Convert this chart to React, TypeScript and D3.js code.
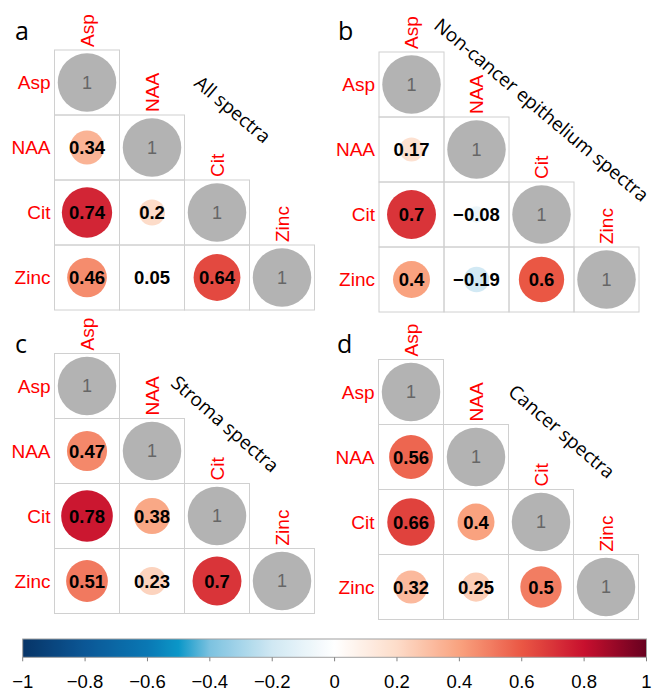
import React from "react";
import * as d3 from "d3";

const variables = ["Asp", "NAA", "Cit", "Zinc"];
const panelLetters = ["a", "b", "c", "d"];
const panelTitles = ["All spectra", "Non-cancer epithelium spectra", "Stroma spectra", "Cancer spectra"];
// lower-triangle correlations, row by row: [NAA-Asp], [Cit-Asp, Cit-NAA], [Zinc-Asp, Zinc-NAA, Zinc-Cit]
const corrAll = [[0.34], [0.74, 0.2], [0.46, 0.05, 0.64]];
const corrNonCancer = [[0.17], [0.7, -0.08], [0.4, -0.19, 0.6]];
const corrStroma = [[0.47], [0.78, 0.38], [0.51, 0.23, 0.7]];
const corrCancer = [[0.56], [0.66, 0.4], [0.32, 0.25, 0.5]];
const colorbarTicks = [-1, -0.8, -0.6, -0.4, -0.2, 0, 0.2, 0.4, 0.6, 0.8, 1];

const paletteDomain = [-1, -0.8, -0.6, -0.5, -0.4, -0.2, 0, 0.2, 0.4, 0.6, 0.8, 1];
const paletteColors = ["#073467", "#0B5796", "#0A78B4", "#0B97C8", "#7CC2E0", "#D0E8F3", "#FFFFFF", "#FDDCC9", "#F9A27F", "#EA5744", "#C8102E", "#67001F"];

const color = d3.scaleLinear<string>().domain(paletteDomain).range(paletteColors).interpolate(d3.interpolateRgb);

const W = 654;
const H = 691;
const CELL = 65;
const LABEL_FONT = "'Liberation Sans', Arial, Helvetica, sans-serif";

const panels = [
  { data: corrAll, x0: 54.5, y0: 50, letter: [15, 40], title: [232.5, 109.5, 40] },
  { data: corrNonCancer, x0: 379, y0: 52, letter: [338, 40], title: [541.5, 110, 40] },
  { data: corrStroma, x0: 54.5, y0: 353.5, letter: [15, 353], title: [225, 424, 41] },
  { data: corrCancer, x0: 378.5, y0: 359.5, letter: [337, 353], title: [561.7, 431.7, 40.5] },
];

const fmt = (v: number) => (v < 0 ? "\u2212" + String(Math.abs(v)) : String(v));

function Panel({ p, idx }: { p: any; idx: number }) {
  const n = variables.length;
  const x = d3.scaleBand<number>().domain(d3.range(n)).range([p.x0, p.x0 + n * CELL]);
  const y = d3.scaleBand<number>().domain(d3.range(n)).range([p.y0, p.y0 + n * CELL]);
  const rMax = (x.bandwidth() / 2) * 0.9;
  const rScale = d3.scaleSqrt().domain([0, 1]).range([0, rMax]);
  const cells: any[] = [];
  for (let i = 0; i < n; i++) {
    for (let j = 0; j <= i; j++) {
      const v = i === j ? 1 : p.data[i - 1][j];
      cells.push({ i, j, v, diag: i === j });
    }
  }
  return (
    <g>
      <text x={p.letter[0]} y={p.letter[1]} fontFamily="'Open Sans', sans-serif" fontSize={25} fill="#000">
        {panelLetters[idx]}
      </text>
      {cells.map((c) => (
        <rect key={`r${c.i}-${c.j}`} x={x(c.j)} y={y(c.i)} width={x.bandwidth()} height={y.bandwidth()} fill="none" stroke="#D0D0D0" strokeWidth={1} />
      ))}
      {cells.map((c) => {
        const cx = (x(c.j) as number) + x.bandwidth() / 2;
        const cy = (y(c.i) as number) + y.bandwidth() / 2;
        return (
          <g key={`c${c.i}-${c.j}`}>
            <circle cx={cx} cy={cy} r={rScale(Math.abs(c.v))} fill={c.diag ? "#B3B3B3" : color(c.v)} />
            <text
              x={cx}
              y={cy}
              dy="0.36em"
              textAnchor="middle"
              fontFamily={LABEL_FONT}
              fontWeight={c.diag ? "normal" : "bold"}
              fontSize={c.diag ? 18 : 18.5}
              fill={c.diag ? "#666666" : "#000"}
            >
              {c.diag ? "1" : fmt(c.v)}
            </text>
          </g>
        );
      })}
      {variables.map((name, i) => (
        <text
          key={`rl${i}`}
          x={p.x0 - 4}
          y={(y(i) as number) + y.bandwidth() / 2}
          dy="0.36em"
          textAnchor="end"
          fontFamily={LABEL_FONT}
          fontSize={19}
          fill="#FF0000"
        >
          {name}
        </text>
      ))}
      {variables.map((name, j) => (
        <text
          key={`cl${j}`}
          transform={`translate(${(x(j) as number) + x.bandwidth() / 2},${(y(j) as number) - 3}) rotate(-90)`}
          dy="0.36em"
          textAnchor="start"
          fontFamily={LABEL_FONT}
          fontSize={19}
          fill="#FF0000"
        >
          {name}
        </text>
      ))}
      <text
        transform={`translate(${p.title[0]},${p.title[1]}) rotate(${p.title[2]})`}
        textAnchor="middle"
        dy="0.35em"
        fontFamily="'Open Sans', sans-serif"
        fontSize={19}
        fill="#000"
      >
        {panelTitles[idx]}
      </text>
    </g>
  );
}

function Colorbar() {
  const xs = d3.scaleLinear().domain([-1, 1]).range([22.7, 646.5]);
  const top = 639;
  const bottom = 657.3;
  const stops = d3.range(0, 101).map((k) => -1 + (2 * k) / 100);
  return (
    <g>
      <defs>
        <linearGradient id="cbar" x1="0" x2="1" y1="0" y2="0">
          {stops.map((s, k) => (
            <stop key={k} offset={`${(s + 1) * 50}%`} stopColor={color(s)} />
          ))}
        </linearGradient>
      </defs>
      <rect x={xs(-1)} y={top} width={xs(1) - xs(-1)} height={bottom - top} fill="url(#cbar)" stroke="#A0A0A0" strokeWidth={1} />
      {colorbarTicks.map((t) => (
        <g key={t}>
          <line x1={xs(t)} x2={xs(t)} y1={bottom} y2={bottom + 4} stroke="#808080" strokeWidth={1} />
          <text x={xs(t)} y={688} textAnchor="middle" fontFamily={LABEL_FONT} fontSize={18.5} fill="#000">
            {fmt(t)}
          </text>
        </g>
      ))}
    </g>
  );
}

export default function App() {
  return (
    <svg width={W} height={H} style={{ position: "absolute", left: 0, top: 0, background: "#fff" }}>
      <rect x={0} y={0} width={W} height={H} fill="#fff" />
      {panels.map((p, idx) => (
        <Panel key={idx} p={p} idx={idx} />
      ))}
      <Colorbar />
    </svg>
  );
}
